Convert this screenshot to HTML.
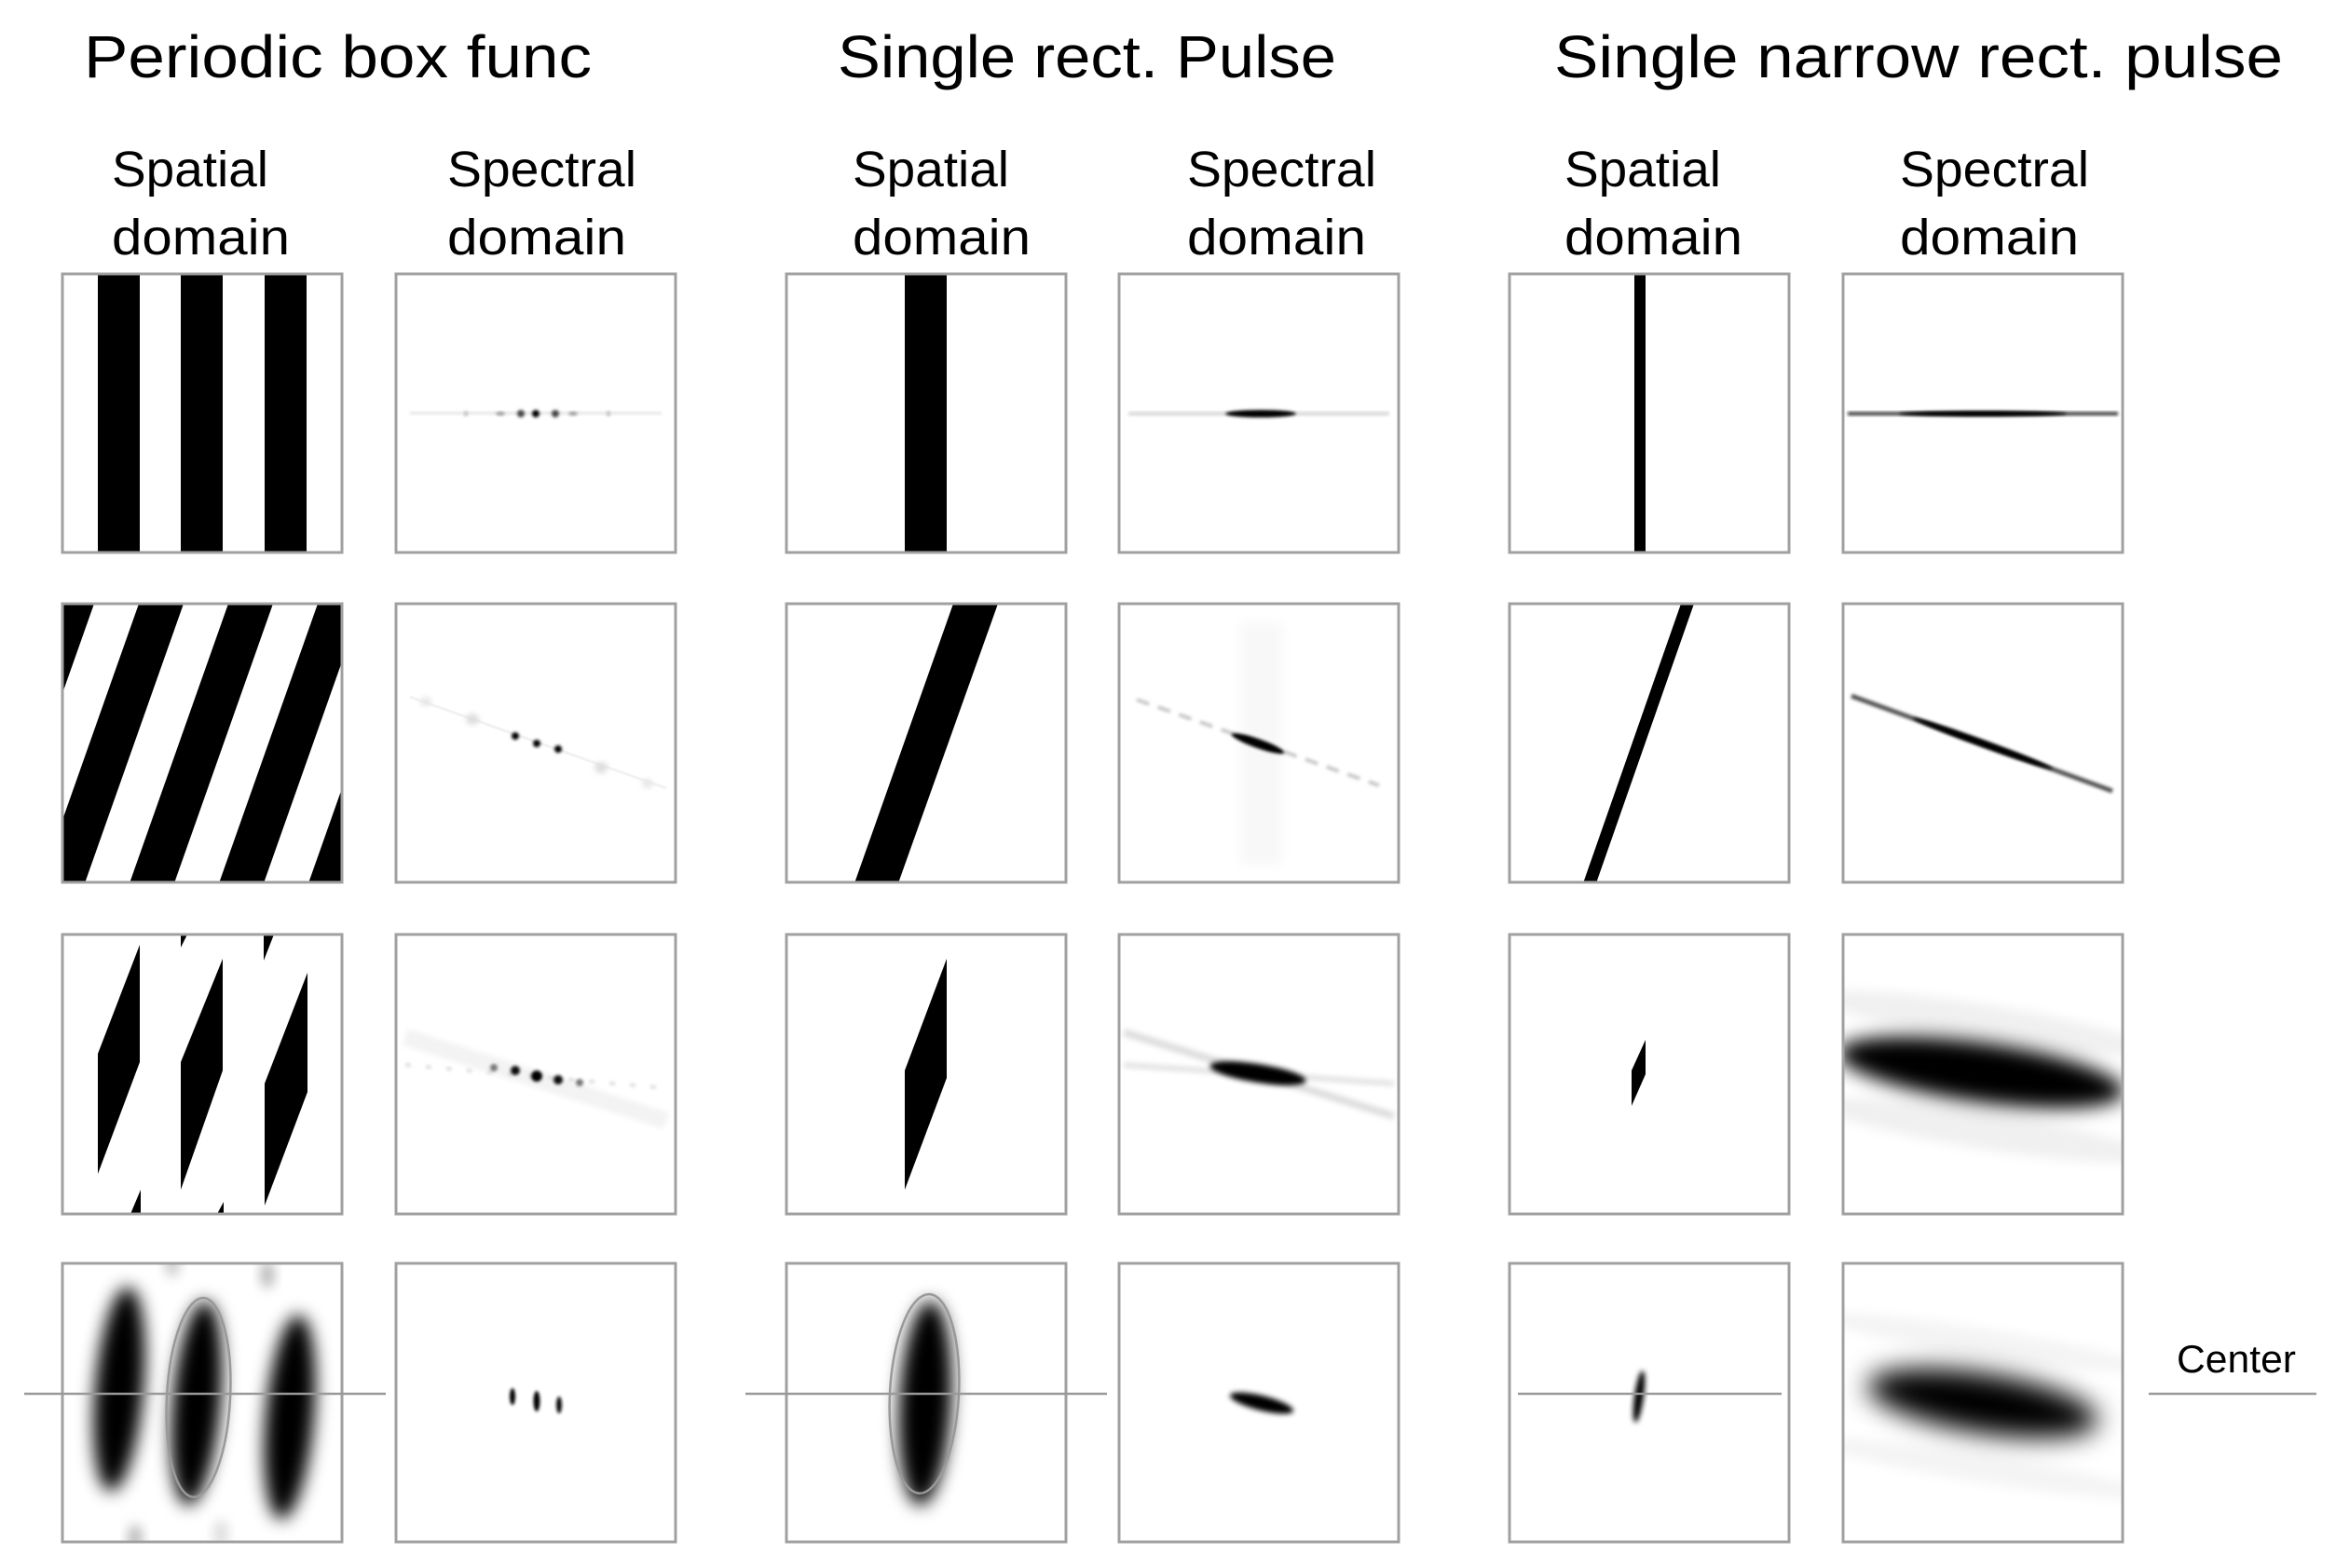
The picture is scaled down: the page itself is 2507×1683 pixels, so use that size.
<!DOCTYPE html>
<html><head><meta charset="utf-8"><style>
html,body{margin:0;padding:0;background:#fff;}
svg{display:block;}
text{font-family:"Liberation Sans",sans-serif;fill:#000;}
</style></head><body>
<svg width="2507" height="1683" viewBox="0 0 2507 1683" xmlns="http://www.w3.org/2000/svg">
<defs>
<clipPath id="c"><rect x="0" y="0" width="300" height="300"/></clipPath>
<filter id="b1" x="-50%" y="-50%" width="200%" height="200%"><feGaussianBlur stdDeviation="1.5"/></filter>
<filter id="b3" x="-50%" y="-50%" width="200%" height="200%"><feGaussianBlur stdDeviation="3"/></filter>
<filter id="b6" x="-50%" y="-50%" width="200%" height="200%"><feGaussianBlur stdDeviation="6"/></filter>
<filter id="b9" x="-50%" y="-50%" width="200%" height="200%"><feGaussianBlur stdDeviation="9"/></filter>
<filter id="b10" x="-50%" y="-50%" width="200%" height="200%"><feGaussianBlur stdDeviation="10"/></filter>
<filter id="b14" x="-50%" y="-50%" width="200%" height="200%"><feGaussianBlur stdDeviation="14"/></filter>
</defs>

<text x="90" y="83" font-size="64" textLength="545" lengthAdjust="spacingAndGlyphs">Periodic box func</text>
<text x="899" y="83" font-size="64" textLength="535" lengthAdjust="spacingAndGlyphs">Single rect. Pulse</text>
<text x="1668" y="83" font-size="64" textLength="782" lengthAdjust="spacingAndGlyphs">Single narrow rect. pulse</text>

<g font-size="54">
<text x="120" y="200" textLength="168" lengthAdjust="spacingAndGlyphs">Spatial</text>
<text x="120" y="273" textLength="191" lengthAdjust="spacingAndGlyphs">domain</text>
<text x="480" y="200" textLength="203" lengthAdjust="spacingAndGlyphs">Spectral</text>
<text x="480" y="273" textLength="192" lengthAdjust="spacingAndGlyphs">domain</text>
<text x="915" y="200" textLength="168" lengthAdjust="spacingAndGlyphs">Spatial</text>
<text x="915" y="273" textLength="191" lengthAdjust="spacingAndGlyphs">domain</text>
<text x="1274" y="200" textLength="203" lengthAdjust="spacingAndGlyphs">Spectral</text>
<text x="1274" y="273" textLength="192" lengthAdjust="spacingAndGlyphs">domain</text>
<text x="1679" y="200" textLength="168" lengthAdjust="spacingAndGlyphs">Spatial</text>
<text x="1679" y="273" textLength="191" lengthAdjust="spacingAndGlyphs">domain</text>
<text x="2039" y="200" textLength="203" lengthAdjust="spacingAndGlyphs">Spectral</text>
<text x="2039" y="273" textLength="192" lengthAdjust="spacingAndGlyphs">domain</text>
</g>

<!-- ROW 1 -->
<g transform="translate(67,294)" clip-path="url(#c)">
<rect x="38" y="0" width="45" height="300"/><rect x="127" y="0" width="45" height="300"/><rect x="217" y="0" width="45" height="300"/>
</g>
<g transform="translate(425,294)" clip-path="url(#c)">
<rect x="15" y="148" width="270" height="3" fill="#e4e4e4" filter="url(#b1)"/>
<ellipse cx="134" cy="150" rx="4" ry="4" fill="#444" filter="url(#b1)"/>
<ellipse cx="150" cy="150" rx="4" ry="4" fill="#000" filter="url(#b1)"/>
<ellipse cx="171" cy="150" rx="4" ry="4" fill="#444" filter="url(#b1)"/>
<ellipse cx="112" cy="150" rx="5" ry="2" fill="#999" filter="url(#b1)"/>
<ellipse cx="190" cy="150" rx="5" ry="2" fill="#999" filter="url(#b1)"/>
<ellipse cx="75" cy="150" rx="2" ry="3" fill="#bbb" filter="url(#b1)"/>
<ellipse cx="228" cy="150" rx="2" ry="3" fill="#bbb" filter="url(#b1)"/>
</g>
<g transform="translate(844,294)" clip-path="url(#c)">
<rect x="127" y="0" width="45" height="300"/>
</g>
<g transform="translate(1201,294)" clip-path="url(#c)">
<rect x="10" y="148" width="280" height="4" fill="#d8d8d8" filter="url(#b1)"/>
<ellipse cx="152" cy="150" rx="38" ry="4" fill="#000" filter="url(#b1)"/>
</g>
<g transform="translate(1620,294)" clip-path="url(#c)">
<rect x="134" y="0" width="12" height="300"/>
</g>
<g transform="translate(1978,294)" clip-path="url(#c)">
<rect x="5" y="148" width="290" height="4" fill="#444" filter="url(#b1)"/>
<ellipse cx="150" cy="150" rx="90" ry="3" fill="#000" filter="url(#b1)"/>
</g>

<!-- ROW 2 -->
<g transform="translate(67,648)" clip-path="url(#c)">
<polygon points="-216,300 -168,300 -62,0 -110,0"/>
<polygon points="-120,300 -72,300 34,0 -14,0"/>
<polygon points="-24,300 24,300 130,0 82,0"/>
<polygon points="72,300 120,300 226,0 178,0"/>
<polygon points="168,300 216,300 322,0 274,0"/>
<polygon points="264,300 312,300 418,0 370,0"/>
</g>
<g transform="translate(425,648)" clip-path="url(#c)">
<line x1="15" y1="100" x2="290" y2="198" stroke="#f2f2f2" stroke-width="3"/>
<ellipse cx="32" cy="105" rx="6" ry="5" fill="#e6e6e6" filter="url(#b3)"/>
<ellipse cx="82" cy="124" rx="7" ry="6" fill="#ddd" filter="url(#b3)"/>
<ellipse cx="220" cy="176" rx="7" ry="6" fill="#ddd" filter="url(#b3)"/>
<ellipse cx="270" cy="193" rx="6" ry="5" fill="#e6e6e6" filter="url(#b3)"/>
<circle cx="128" cy="142" r="4" fill="#000" filter="url(#b1)"/>
<circle cx="151" cy="150" r="4" fill="#000" filter="url(#b1)"/>
<circle cx="174" cy="156" r="4" fill="#000" filter="url(#b1)"/>
</g>
<g transform="translate(844,648)" clip-path="url(#c)">
<polygon points="73,300 120,300 227,0 179,0"/>
</g>
<g transform="translate(1201,648)" clip-path="url(#c)">
<rect x="130" y="20" width="45" height="260" fill="#f8f8f8" filter="url(#b6)"/>
<line x1="19" y1="103" x2="279" y2="195" stroke="#c8c8c8" stroke-width="4" stroke-dasharray="14,10" filter="url(#b1)"/>
<ellipse cx="149" cy="150" rx="30" ry="5" fill="#000" transform="rotate(19.5 149 150)" filter="url(#b1)"/>
</g>
<g transform="translate(1620,648)" clip-path="url(#c)">
<polygon points="79,300 93,300 198,0 184,0"/>
</g>
<g transform="translate(1978,648)" clip-path="url(#c)">
<line x1="9" y1="99" x2="289" y2="201" stroke="#555" stroke-width="5" filter="url(#b1)"/>
<ellipse cx="150" cy="150" rx="80" ry="4" fill="#000" transform="rotate(20 150 150)" filter="url(#b1)"/>
</g>

<!-- ROW 3 -->
<g transform="translate(67,1003)" clip-path="url(#c)">
<polygon points="83,11 83,137 38,257 38,128"/>
<polygon points="172,26 172,146 127,274 127,137"/>
<polygon points="263,41 263,169 217,291 217,160"/>
<polygon points="127,0 134,0 127,14"/>
<polygon points="216,0 227,0 216,28"/>
<polygon points="84,274 84,300 73,300"/>
<polygon points="173,287 173,300 166,300"/>
</g>
<g transform="translate(425,1003)" clip-path="url(#c)">
<line x1="10" y1="110" x2="290" y2="200" stroke="#f3f3f3" stroke-width="18" filter="url(#b3)"/>
<line x1="10" y1="140" x2="290" y2="165" stroke="#e0e0e0" stroke-width="4" stroke-dasharray="6,16" filter="url(#b1)"/>
<circle cx="105" cy="143" r="4" fill="#777" filter="url(#b1)"/>
<circle cx="128" cy="146" r="5" fill="#111" filter="url(#b1)"/>
<circle cx="151" cy="152" r="6" fill="#000" filter="url(#b1)"/>
<circle cx="174" cy="156" r="5" fill="#111" filter="url(#b1)"/>
<circle cx="197" cy="159" r="4" fill="#777" filter="url(#b1)"/>
</g>
<g transform="translate(844,1003)" clip-path="url(#c)">
<polygon points="172,26 172,154 127,274 127,146"/>
</g>
<g transform="translate(1201,1003)" clip-path="url(#c)">
<line x1="5" y1="105" x2="295" y2="195" stroke="#ddd" stroke-width="8" filter="url(#b3)"/>
<line x1="5" y1="140" x2="295" y2="160" stroke="#ddd" stroke-width="5" filter="url(#b3)"/>
<ellipse cx="149" cy="149" rx="52" ry="10" fill="#000" transform="rotate(9 149 149)" filter="url(#b3)"/>
</g>
<g transform="translate(1620,1003)" clip-path="url(#c)">
<polygon points="146,113 146,150 131,184 131,146"/>
</g>
<g transform="translate(1978,1003)" clip-path="url(#c)">
<ellipse cx="150" cy="95" rx="180" ry="20" fill="#f0f0f0" transform="rotate(9 150 95)" filter="url(#b6)"/>
<ellipse cx="150" cy="210" rx="180" ry="20" fill="#f0f0f0" transform="rotate(9 150 210)" filter="url(#b6)"/>
<ellipse cx="148" cy="148" rx="155" ry="32" fill="#000" transform="rotate(8 148 148)" filter="url(#b10)"/>
</g>

<!-- ROW 4 -->
<g transform="translate(67,1356)" clip-path="url(#c)">
<ellipse cx="61" cy="135" rx="26" ry="110" fill="#000" transform="rotate(5 61 135)" filter="url(#b9)"/>
<ellipse cx="144" cy="150" rx="26" ry="110" fill="#000" transform="rotate(5 144 150)" filter="url(#b9)"/>
<ellipse cx="244" cy="165" rx="26" ry="110" fill="#000" transform="rotate(5 244 165)" filter="url(#b9)"/>
<ellipse cx="118" cy="0" rx="8" ry="15" fill="#ccc" filter="url(#b6)"/>
<ellipse cx="220" cy="12" rx="8" ry="15" fill="#bbb" filter="url(#b6)"/>
<ellipse cx="78" cy="295" rx="8" ry="15" fill="#bbb" filter="url(#b6)"/>
<ellipse cx="170" cy="290" rx="8" ry="15" fill="#ddd" filter="url(#b6)"/>
<ellipse cx="146" cy="144" rx="34" ry="107" fill="none" stroke="#999" stroke-width="2.5" transform="rotate(3 146 144)"/>
</g>
<g transform="translate(425,1356)" clip-path="url(#c)">
<ellipse cx="125" cy="143" rx="3" ry="9" fill="#000" filter="url(#b1)"/>
<ellipse cx="151" cy="148" rx="3.5" ry="11" fill="#000" filter="url(#b1)"/>
<ellipse cx="175" cy="152" rx="3" ry="9" fill="#111" filter="url(#b1)"/>
</g>
<g transform="translate(844,1356)" clip-path="url(#c)">
<ellipse cx="149" cy="150" rx="28" ry="110" fill="#000" transform="rotate(3 149 150)" filter="url(#b9)"/>
<ellipse cx="148" cy="140" rx="37" ry="107" fill="none" stroke="#999" stroke-width="2.5" transform="rotate(3 148 140)"/>
</g>
<g transform="translate(1201,1356)" clip-path="url(#c)">
<ellipse cx="153" cy="150" rx="35" ry="8" fill="#000" transform="rotate(14 153 150)" filter="url(#b3)"/>
</g>
<g transform="translate(1620,1356)" clip-path="url(#c)">
<ellipse cx="139" cy="143" rx="5" ry="28" fill="#000" transform="rotate(8 139 143)" filter="url(#b3)"/>
</g>
<g transform="translate(1978,1356)" clip-path="url(#c)">
<ellipse cx="150" cy="85" rx="180" ry="15" fill="#f4f4f4" transform="rotate(9 150 85)" filter="url(#b6)"/>
<ellipse cx="150" cy="220" rx="180" ry="15" fill="#f4f4f4" transform="rotate(9 150 220)" filter="url(#b6)"/>
<ellipse cx="150" cy="150" rx="125" ry="32" fill="#000" transform="rotate(9 150 150)" filter="url(#b14)"/>
</g>

<g fill="none" stroke="#a0a0a0" stroke-width="3">
<rect x="67" y="294" width="300" height="299"/><rect x="425" y="294" width="300" height="299"/><rect x="844" y="294" width="300" height="299"/><rect x="1201" y="294" width="300" height="299"/><rect x="1620" y="294" width="300" height="299"/><rect x="1978" y="294" width="300" height="299"/>
<rect x="67" y="648" width="300" height="299"/><rect x="425" y="648" width="300" height="299"/><rect x="844" y="648" width="300" height="299"/><rect x="1201" y="648" width="300" height="299"/><rect x="1620" y="648" width="300" height="299"/><rect x="1978" y="648" width="300" height="299"/>
<rect x="67" y="1003" width="300" height="300"/><rect x="425" y="1003" width="300" height="300"/><rect x="844" y="1003" width="300" height="300"/><rect x="1201" y="1003" width="300" height="300"/><rect x="1620" y="1003" width="300" height="300"/><rect x="1978" y="1003" width="300" height="300"/>
<rect x="67" y="1356" width="300" height="299"/><rect x="425" y="1356" width="300" height="299"/><rect x="844" y="1356" width="300" height="299"/><rect x="1201" y="1356" width="300" height="299"/><rect x="1620" y="1356" width="300" height="299"/><rect x="1978" y="1356" width="300" height="299"/>
</g>

<g stroke="#999" stroke-width="2.5">
<line x1="26" y1="1496" x2="414" y2="1496"/>
<line x1="800" y1="1496" x2="1188" y2="1496"/>
<line x1="1629" y1="1496" x2="1912" y2="1496"/>
<line x1="2306" y1="1496" x2="2486" y2="1496"/>
</g>
<text x="2336" y="1473" font-size="42" textLength="128" lengthAdjust="spacingAndGlyphs">Center</text>
</svg>
</body></html>
